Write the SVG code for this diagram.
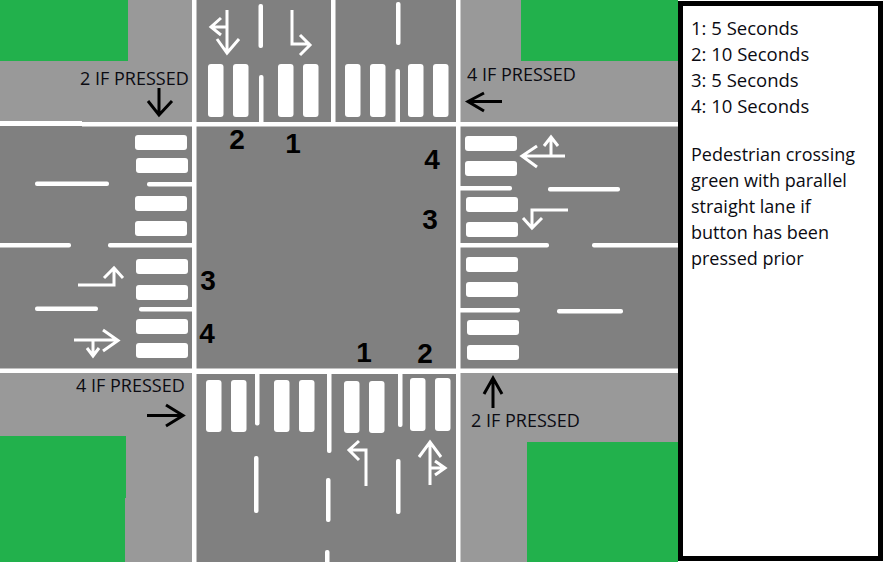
<svg xmlns="http://www.w3.org/2000/svg" width="883" height="562" viewBox="0 0 883 562">
<style>
.side{fill:#999999}
.road{fill:#808080}
.grass{fill:#22b14c}
.w{fill:#fff}
.zebra rect{fill:#fff;rx:3px;ry:3px}
.dash rect{fill:#fff;rx:2px;ry:2px}
.wa{fill:none;stroke:#fff;stroke-width:3}
.ba{fill:none;stroke:#000;stroke-width:3}
text{font-family:"Open Sans","Noto Sans","Liberation Sans",sans-serif;fill:#0b0b12}
.lab{font-size:18px}
.leg{font-size:18px}
.leg2{font-size:18.500px}
.num{font-family:"Liberation Sans",sans-serif;font-weight:bold;font-size:28px;fill:#000;text-anchor:middle}
</style>
<rect width="883" height="562" fill="#fff"/>
<g id="ground">
<rect class="side" x="0" y="0" width="678" height="562"/>
<rect class="road" x="196" y="0" width="260" height="562"/>
<rect class="road" x="0" y="126" width="678" height="243"/>
<rect class="grass" x="0" y="0" width="128" height="61"/>
<rect class="grass" x="521" y="0" width="157" height="61"/>
<rect class="grass" x="0" y="436" width="126" height="62"/>
<rect class="grass" x="0" y="498" width="125" height="64"/>
<rect class="grass" x="527" y="442" width="151" height="120"/>
</g>
<g id="road-edges">
<rect class="w" x="192" y="0" width="4.500" height="562"/>
<rect class="w" x="456" y="0" width="4.500" height="562"/>
<rect class="w" x="331" y="0" width="4.500" height="122"/>
<rect class="w" x="0" y="121" width="82" height="5"/>
<rect class="w" x="82" y="122" width="596" height="4.500"/>
<rect class="w" x="0" y="368.500" width="678" height="4.500"/>
<rect class="w" x="196" y="369.500" width="260" height="4.500"/>
</g>
<g id="lane-lines" class="dash">
<rect x="258.500" y="4" width="4.500" height="44"/>
<rect x="259" y="75" width="4.500" height="49"/>
<rect x="396" y="2" width="4.500" height="43"/>
<rect x="395.500" y="69" width="4.500" height="55"/>
<rect x="147" y="182" width="47" height="4.500"/>
<rect x="35" y="181.500" width="74" height="4.500"/>
<rect x="-5" y="243" width="76" height="4.500"/>
<rect x="108" y="243" width="86" height="4.500"/>
<rect x="35" y="306.500" width="63" height="4.500"/>
<rect x="139" y="307" width="55" height="4.500"/>
<rect x="458" y="186" width="54" height="4.500"/>
<rect x="548" y="187" width="72" height="4.500"/>
<rect x="458" y="243" width="91" height="4.500"/>
<rect x="592" y="243" width="90" height="4.500"/>
<rect x="458" y="308" width="62" height="4.500"/>
<rect x="557" y="309" width="66" height="4.500"/>
<rect x="255" y="372" width="4.500" height="53.500"/>
<rect x="327" y="372" width="4.500" height="81"/>
<rect x="398" y="372" width="4.500" height="55"/>
<rect x="254" y="456" width="4.500" height="57"/>
<rect x="326" y="478" width="4.500" height="44"/>
<rect x="325" y="550" width="4.500" height="16"/>
<rect x="396" y="459" width="4.500" height="55"/>
</g>
<g id="crossing-north" class="zebra">
<rect x="208" y="64" width="15.500" height="53"/>
<rect x="233" y="64" width="15.500" height="53"/>
<rect x="278" y="64" width="15.500" height="53"/>
<rect x="303" y="64" width="15.500" height="53"/>
<rect x="345" y="64" width="15.500" height="53"/>
<rect x="370" y="64" width="15.500" height="53"/>
<rect x="408" y="64" width="15.500" height="53"/>
<rect x="433" y="64" width="15.500" height="53"/>
</g>
<g id="crossing-west" class="zebra">
<rect x="135" y="135" width="52" height="15"/>
<rect x="136" y="158" width="52" height="15"/>
<rect x="135" y="196" width="52" height="15"/>
<rect x="135" y="221" width="52" height="15"/>
<rect x="136" y="259" width="52" height="15"/>
<rect x="136" y="285" width="52" height="15"/>
<rect x="136" y="319" width="52" height="15"/>
<rect x="136" y="343" width="52" height="15"/>
</g>
<g id="crossing-east" class="zebra">
<rect x="465" y="136" width="52" height="15"/>
<rect x="465" y="161" width="52" height="15"/>
<rect x="466" y="197" width="52" height="15"/>
<rect x="466" y="222" width="52" height="15"/>
<rect x="466" y="257" width="52" height="15"/>
<rect x="466" y="282" width="52" height="15"/>
<rect x="467" y="320" width="52" height="15"/>
<rect x="467" y="345" width="52" height="15"/>
</g>
<g id="crossing-south" class="zebra">
<rect x="206" y="380" width="15.500" height="52"/>
<rect x="231" y="380" width="15.500" height="52"/>
<rect x="274" y="380" width="15.500" height="52"/>
<rect x="299" y="380" width="15.500" height="52"/>
<rect x="344" y="381" width="15.500" height="52"/>
<rect x="369" y="381" width="15.500" height="52"/>
<rect x="410" y="378" width="15.500" height="53"/>
<rect x="435" y="378" width="15.500" height="53"/>
</g>
<g id="lane-arrows" class="wa">
<path d="M227 10V53M217 39L227 53L239 39M227 27H212M221 18L211 27L221 35"/>
<path d="M292 10V44H310M300 35L310 45L300 55"/>
<path d="M78 285H114V268M104 278L114 268L123 278"/>
<path d="M74 340H117M103 330L118 340.500L103 351M93 340V356M87 348L93 356L99 348"/>
<path d="M565 156H522M537 146L522 156L537 167M551 156V137M544 146L551 137L558 146"/>
<path d="M568 210H532V228M523 218L532 228L542 218"/>
<path d="M366 486V450H349M359 441L349 450L359 460"/>
<path d="M430 485V442M419 457L430 442L441 457M430 468H445M435 461L445 468L435 475"/>
</g>
<g id="button-arrows" class="ba">
<path d="M159 88V115M148 101L159 115L172 101"/>
<path d="M502 101.500H468M484 93L468 101.500L484 111"/>
<path d="M147 415.500H183M166 405L183 415.500L166 426"/>
<path d="M493 408V378M484 394L493 378L502 394"/>
</g>
<g id="phase-numbers">
<text class="num" x="237" y="149">2</text>
<text class="num" x="293" y="153">1</text>
<text class="num" x="432" y="169">4</text>
<text class="num" x="430" y="229">3</text>
<text class="num" x="208" y="290">3</text>
<text class="num" x="207" y="343">4</text>
<text class="num" x="364" y="362">1</text>
<text class="num" x="425" y="363">2</text>
</g>
<g id="press-labels">
<text class="lab" x="80" y="85">2 IF PRESSED</text>
<text class="lab" x="467" y="81">4 IF PRESSED</text>
<text class="lab" x="76" y="392">4 IF PRESSED</text>
<text class="lab" x="471" y="427">2 IF PRESSED</text>
</g>
<g id="legend">
<rect x="680.500" y="3.500" width="200" height="555" fill="#fff" stroke="#000" stroke-width="5"/>
<text class="leg2" x="691" y="35">1: 5 Seconds</text>
<text class="leg2" x="691" y="61">2: 10 Seconds</text>
<text class="leg2" x="691" y="87">3: 5 Seconds</text>
<text class="leg2" x="691" y="113">4: 10 Seconds</text>
<text class="leg" x="691" y="161">Pedestrian crossing</text>
<text class="leg" x="691" y="187">green with parallel</text>
<text class="leg" x="691" y="213">straight lane if</text>
<text class="leg" x="691" y="239">button has been</text>
<text class="leg" x="691" y="265">pressed prior</text>
</g>
</svg>
